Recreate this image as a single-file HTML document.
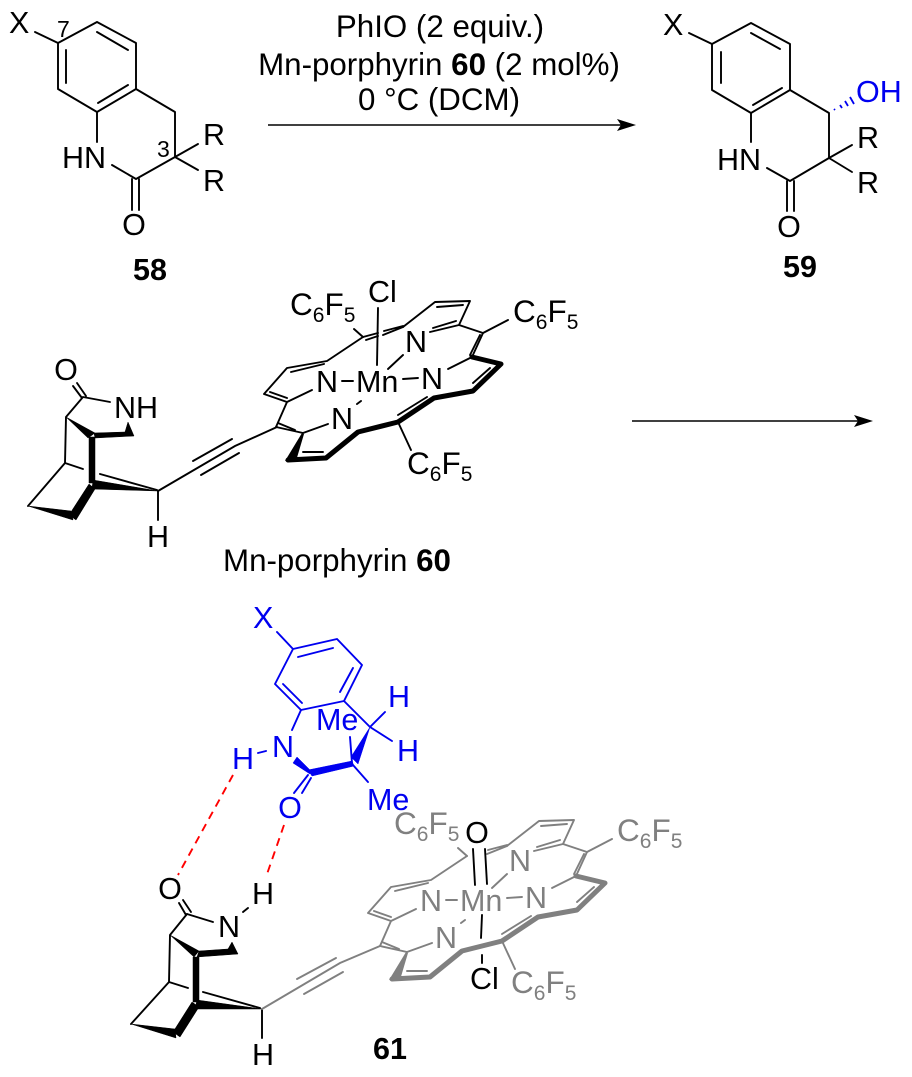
<!DOCTYPE html>
<html>
<head>
<meta charset="utf-8">
<style>
html,body{margin:0;padding:0;background:#fff;}
svg{display:block;}
text{font-family:"Liberation Sans",Arial,sans-serif;font-size:30.5px;fill:#000;}
.s{font-size:21px;}
.b{font-weight:bold;}
.sm{font-size:23px;}
.r{font-size:31.3px;}
.c{font-size:31.5px;}
.g,.g tspan{fill:#808080;}
.bl{fill:#0000f0;}
</style>
</head>
<body>
<svg width="912" height="1077" viewBox="0 0 912 1077" xmlns="http://www.w3.org/2000/svg">

<!-- 58 -->
<g fill="none" stroke="#000" stroke-width="1.9" stroke-linecap="round" stroke-linejoin="round">
<path d="M35,32L58,43L97,22L136,43L136,89L97,112L58,89L58,43"/>
<path d="M97,32L128,50M66,50L66,83M128,85L98,103"/>
<path d="M136,89L175,112L175,157L136,179L112,165M97,112L97,142"/>
<path d="M132,179L132,210M139,179L139,210M175,157L198,144M175,157L198,170"/>
</g>
<text x="9" y="33">X</text>
<text x="57" y="37" class="sm">7</text>
<text x="157" y="157" class="sm">3</text>
<text x="62" y="168">HN</text>
<text x="203" y="145">R</text>
<text x="203" y="191">R</text>
<text x="134" y="235" text-anchor="middle">O</text>
<text x="150" y="280" text-anchor="middle" class="b">58</text>

<!-- reagents -->
<text x="440" y="37" text-anchor="middle" class="r">PhIO (2 equiv.)</text>
<text x="439" y="75" text-anchor="middle" class="r">Mn-porphyrin <tspan class="b">60</tspan> (2 mol%)</text>
<text x="439" y="110" text-anchor="middle" class="r">0 °C (DCM)</text>
<path d="M268,125L622,125" stroke="#000" stroke-width="1.6"/>
<path d="M636,125L617,119L621,125L617,131Z" fill="#000"/>
<path d="M632,421L860,421" stroke="#000" stroke-width="1.6"/>
<path d="M873,421L854,415L858,421L854,427Z" fill="#000"/>

<!-- 59 -->
<g fill="none" stroke="#000" stroke-width="1.9" stroke-linecap="round" stroke-linejoin="round">
<path d="M689,33L712,44L751,23L790,44L790,90L751,113L712,90L712,44"/>
<path d="M751,33L780,49M721,52L721,83M782,88L753,105"/>
<path d="M790,90L829,113L829,158L790,181L767,168M751,113L751,142"/>
<path d="M787,181L787,211M794,181L794,211M829,158L852,145M829,158L852,172"/>
</g>
<g stroke="#0000f0" stroke-width="1.8" fill="none">
<path d="M834,109L835,110M840,105L842,108M845,101L848,106M850,97L854,104"/>
</g>
<text x="663" y="35">X</text>
<text x="717" y="170">HN</text>
<text x="857" y="148">R</text>
<text x="857" y="193">R</text>
<text x="789" y="237" text-anchor="middle">O</text>
<text x="856" y="102" class="bl">OH</text>
<text x="800" y="277" text-anchor="middle" class="b">59</text>

<!-- bicycle upper -->
<g fill="none" stroke="#000" stroke-width="1.9" stroke-linecap="round" stroke-linejoin="round">
<path d="M77,383L86,396M73,386L82,398M83,397L110,402M83,397L66,417L65,463L83,469M65,463L28,506"/>
<path d="M100,474L157,490M158,491L158,520"/>
</g>
<g fill="#000" stroke="#000" stroke-width="0.5" stroke-linejoin="round">
<path d="M66,417L95,433L88,438Z"/>
<path d="M128,422L134,436L95,438L94,433L125,432Z"/>
<path d="M89,437L95,437L95,483L89,483Z"/>
<path d="M28,506L71,511L73,520Z"/>
<path d="M69,515L76,520L95,489L89,484Z"/>
<path d="M158,491L93,480L92,489Z"/>
</g>
<text x="66" y="380" text-anchor="middle">O</text>
<text x="114" y="418">NH</text>
<text x="158" y="547" text-anchor="middle">H</text>
<g fill="none" stroke="#000" stroke-width="1.9" stroke-linecap="round">
<path d="M158,491L235,446L277,427M193,461L232,439M201,475L239,453"/>
</g>

<!-- porphyrin 60 -->
<g fill="none" stroke="#000" stroke-width="1.9" stroke-linecap="round" stroke-linejoin="round">
<path d="M276,427L287,402L264,394L287,368L327,361L363,337M287,402L312,390"/>
<path d="M270,392L287,398M291,372L324,364"/>
<path d="M363,337L378,333M383,335L403,327M366,340L378,336M384,331L403,326"/>
<path d="M403,327L435,302L470,301L459,325L483,333L508,320M437,307L463,305M459,325L430,332M433,328L456,321"/>
<path d="M483,333L472,357M470,355L480,335M448,369L472,357"/>
<path d="M303,433L276,427M278,423L295,430M303,433L328,424"/>
<path d="M303,452L323,452M473,383L490,368M398,415L427,397"/>
<path d="M398,422L411,450M363,337L354,329"/>
<path d="M342,381L353,381M403,379L418,378M388,369L403,355M357,404L361,401"/>
<path d="M378,308L377,365"/>
</g>
<g fill="none" stroke="#000" stroke-width="5" stroke-linejoin="round" stroke-linecap="round">
<path d="M472,357L501,364L473,391L434,398L398,422L358,432L326,458L288,460"/>
</g>
<path d="M285,461L302,433L304,434L296,461Z" fill="#000"/>
<text x="368" y="302">Cl</text>
<text x="290" y="315" class="c">C<tspan class="s" dy="7">6</tspan><tspan dy="-7">F</tspan><tspan class="s" dy="7">5</tspan></text>
<text x="513" y="322" class="c">C<tspan class="s" dy="7">6</tspan><tspan dy="-7">F</tspan><tspan class="s" dy="7">5</tspan></text>
<text x="407" y="474" class="c">C<tspan class="s" dy="7">6</tspan><tspan dy="-7">F</tspan><tspan class="s" dy="7">5</tspan></text>
<text x="316" y="392">N</text>
<text x="356" y="392">Mn</text>
<text x="421" y="389">N</text>
<text x="405" y="352">N</text>
<text x="331" y="429">N</text>
<text x="223" y="571" class="r">Mn-porphyrin <tspan class="b">60</tspan></text>

<!-- blue substrate -->
<g fill="none" stroke="#0000f0" stroke-width="1.9" stroke-linecap="round" stroke-linejoin="round">
<path d="M277,632L293,649L337,639L362,665L344,701L301,710L275,684L293,649"/>
<path d="M298,657L333,648M353,668L340,692M283,684L302,703"/>
<path d="M344,701L370,727L385,712M370,727L392,741"/>
<path d="M350,737L352,763M301,710L292,730M258,753L266,751"/>
<path d="M308,775L294,793M311,778L302,793M353,765L368,782"/>
</g>
<g fill="#0000f0" stroke="#0000f0" stroke-width="0.5" stroke-linejoin="round">
<path d="M370,727L351,757L358,764Z"/>
<path d="M308,770L352,761L354,766L312,776Z"/>
<path d="M297,757L293,763L310,774L311,771Z"/>
</g>
<text x="253" y="628" class="bl">X</text>
<text x="388" y="707" class="bl">H</text>
<text x="397" y="761" class="bl">H</text>
<text x="316" y="730" class="bl">Me</text>
<text x="272" y="757" class="bl">N</text>
<text x="232" y="769" class="bl">H</text>
<text x="290" y="818" text-anchor="middle" class="bl">O</text>
<text x="367" y="810" class="bl">Me</text>

<!-- H bonds -->
<path d="M233,775L178,875" stroke="#ff0000" stroke-width="1.9" stroke-dasharray="8 6" fill="none"/>
<path d="M284,825L266,877" stroke="#ff0000" stroke-width="1.9" stroke-dasharray="8 6" fill="none"/>

<!-- bicycle lower -->
<g fill="none" stroke="#000" stroke-width="1.9" stroke-linecap="round" stroke-linejoin="round">
<path d="M183,900L191,912M179,903L186,915M187,914L213,922M243,912L248,908"/>
<path d="M187,914L170,935L169,982L188,988M169,982L131,1024"/>
<path d="M203,992L260,1008M262,1009L262,1038"/>
</g>
<g fill="#000" stroke="#000" stroke-width="0.5" stroke-linejoin="round">
<path d="M170,935L199,951L194,957Z"/>
<path d="M232,942L238,954L197,957L199,951L228,949Z"/>
<path d="M193,957L199,957L199,1002L193,1002Z"/>
<path d="M131,1024L175,1029L176,1038Z"/>
<path d="M173,1032L180,1037L199,1007L192,1002Z"/>
<path d="M262,1009L197,1000L195,1009Z"/>
</g>
<text x="170" y="899" text-anchor="middle">O</text>
<text x="218" y="937">N</text>
<text x="252" y="904">H</text>
<text x="252" y="1065">H</text>
<text x="390" y="1059" text-anchor="middle" class="b">61</text>
<g fill="none" stroke="#808080" stroke-width="1.9" stroke-linecap="round">
<path d="M262,1009L340,963L380,946M297,979L336,958M304,994L343,972"/>
</g>

<!-- porphyrin 61 -->
<g transform="translate(104,519)">
<g fill="none" stroke="#808080" stroke-width="1.9" stroke-linecap="round" stroke-linejoin="round">
<path d="M276,427L287,402L264,394L287,368L327,361L363,337M287,402L312,390"/>
<path d="M270,392L287,398M291,372L324,364"/>
<path d="M383,335L403,327M384,331L403,326"/>
<path d="M403,327L435,302L470,301L459,325L483,333L508,320M437,307L463,305M459,325L430,332M433,328L456,321"/>
<path d="M483,333L472,357M470,355L480,335M448,369L472,357"/>
<path d="M303,433L276,427M278,423L295,430M303,433L328,424"/>
<path d="M303,452L323,452M473,383L490,368M398,415L427,397"/>
<path d="M398,422L411,450M363,337L354,329"/>
<path d="M342,381L353,381M403,379L418,378M388,369L403,355M357,404L361,401"/>
</g>
<g fill="none" stroke="#808080" stroke-width="5" stroke-linejoin="round" stroke-linecap="round">
<path d="M472,357L501,364L473,391L434,398L398,422L358,432L326,458L288,460"/>
</g>
<path d="M285,461L302,433L304,434L296,461Z" fill="#808080"/>
<text x="290" y="315" class="c g">C<tspan class="s" dy="7">6</tspan><tspan dy="-7">F</tspan><tspan class="s" dy="7">5</tspan></text>
<text x="513" y="322" class="c g">C<tspan class="s" dy="7">6</tspan><tspan dy="-7">F</tspan><tspan class="s" dy="7">5</tspan></text>
<text x="407" y="474" class="c g">C<tspan class="s" dy="7">6</tspan><tspan dy="-7">F</tspan><tspan class="s" dy="7">5</tspan></text>
<text x="316" y="392" class="g">N</text>
<text x="356" y="392" class="g">Mn</text>
<text x="421" y="389" class="g">N</text>
<text x="405" y="352" class="g">N</text>
<text x="331" y="429" class="g">N</text>
</g>
<g fill="none" stroke="#000" stroke-width="1.9" stroke-linecap="round">
<path d="M473,849L475,885M485,849L487,884M482,915L481,938M482,955L482,963"/>
</g>
<text x="477" y="843" text-anchor="middle">O</text>
<text x="470" y="989">Cl</text>
</svg>
</body>
</html>
